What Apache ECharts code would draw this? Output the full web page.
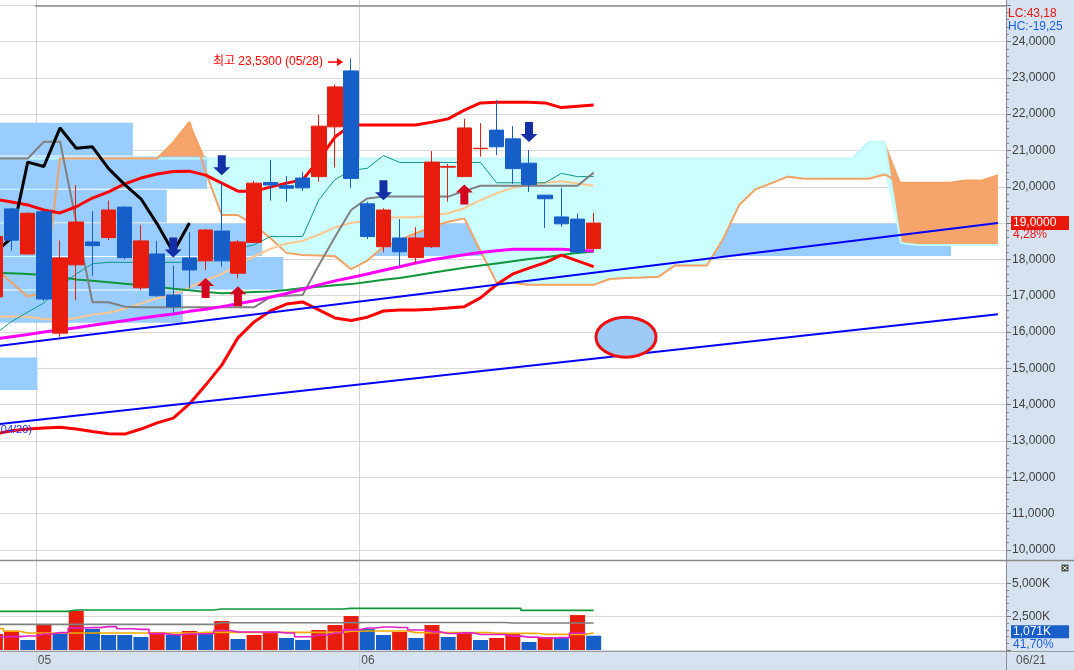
<!DOCTYPE html>
<html><head><meta charset="utf-8">
<script src="https://cdn.jsdelivr.net/npm/echarts@6.0.0/dist/echarts.min.js"></script>
<style>html,body{margin:0;padding:0;background:#fff;overflow:hidden}#c{width:1074px;height:670px}</style>
</head><body><div id="c"></div>
<script>
// ---------- data ----------
const dates = ['04/26','04/29','04/30','05/01','05/02','05/03','05/06','05/07','05/08','05/09','05/10','05/13','05/14','05/15','05/16','05/17','05/20','05/21','05/22','05/23','05/24','05/27','05/28','06/03','06/04','06/05','06/06','06/07','06/10','06/11','06/12','06/13','06/14','06/17','06/18','06/19','06/20','06/21','06/24','06/25','06/26','06/27','06/28','07/01','07/02','07/03','07/04','07/05','07/08','07/09','07/10','07/11','07/12','07/15','07/16','07/17','07/18','07/19','07/22','07/23','07/24','07/25','07/26'];
const lastRealIdx = 37;
const open  = [16.97,19.39,18.15,19.31,15.97,17.85,18.48,18.60,19.44,17.22,18.15,17.02,18.04,17.96,18.78,17.62,18.47,20.12,20.03,20.24,20.28,21.65,23.19,19.53,18.35,18.59,18.05,18.35,20.54,20.28,21.05,21.56,21.32,20.65,19.77,19.17,19.11,18.30];
const close = [18.63,18.53,19.27,16.91,18.04,19.03,18.38,19.36,18.05,18.51,17.00,16.70,17.71,18.81,17.96,18.48,20.10,20.05,19.96,19.97,21.67,22.75,20.23,18.63,19.36,18.21,18.59,20.68,20.56,21.62,21.06,21.10,20.50,20.06,19.67,18.98,18.20,19.00];
const low   = [16.90,18.24,18.15,16.86,15.87,16.88,17.55,18.53,18.00,17.15,16.97,16.52,17.20,17.71,17.80,17.48,18.47,19.62,19.59,19.89,20.14,20.53,19.97,18.56,18.20,17.83,17.89,18.31,19.59,20.28,20.83,20.87,20.08,19.86,18.87,18.90,18.17,18.23];
const high  = [18.90,19.42,19.30,19.35,18.52,20.05,19.33,19.62,19.46,18.95,18.51,17.83,18.75,18.84,20.10,18.53,20.16,20.74,20.30,20.40,21.98,22.82,23.53,19.59,19.41,19.11,18.89,20.99,20.63,21.87,21.75,22.38,21.67,21.01,19.77,19.97,19.26,19.28];
const volume = [1198,1445,748,1896,1222,2944,1572,1123,1123,973,1347,1123,1422,1222,2171,823,1123,1347,898,748,1497,1871,2545,1572,1123,1347,898,1871,973,1347,748,898,1222,599,973,965,2620,1071];

const bbUpper = [19.66,19.58,19.50,19.36,19.28,19.45,19.69,19.86,20.08,20.24,20.35,20.42,20.43,20.32,20.10,19.88,19.88,19.99,20.10,20.19,20.74,21.37,21.70,21.70,21.70,21.70,21.70,21.78,21.87,22.11,22.31,22.33,22.33,22.33,22.31,22.18,22.22,22.25];
const bbLower = [13.20,13.28,13.33,13.36,13.38,13.33,13.26,13.20,13.19,13.33,13.50,13.63,14.02,14.54,15.09,15.84,16.28,16.58,16.77,16.83,16.61,16.39,16.32,16.41,16.58,16.61,16.61,16.63,16.66,16.70,16.94,17.31,17.60,17.76,17.91,18.12,17.96,17.80];
const bbMid   = [16.43,16.43,16.42,16.36,16.33,16.39,16.48,16.53,16.64,16.79,16.93,17.03,17.23,17.43,17.60,17.86,18.08,18.29,18.44,18.51,18.68,18.88,19.01,19.06,19.14,19.16,19.16,19.21,19.27,19.41,19.63,19.82,19.97,20.05,20.11,20.15,20.09,20.03];
const maMagenta = [15.81,15.87,15.93,16.00,16.06,16.12,16.19,16.25,16.31,16.38,16.44,16.50,16.57,16.63,16.70,16.78,16.86,16.96,17.06,17.18,17.30,17.41,17.50,17.60,17.70,17.80,17.90,17.99,18.06,18.13,18.19,18.24,18.28,18.28,18.28,18.28,18.25,18.23];
const maGreen = [17.63,17.62,17.60,17.57,17.52,17.45,17.41,17.37,17.33,17.29,17.24,17.19,17.15,17.10,17.07,17.08,17.10,17.12,17.16,17.21,17.25,17.29,17.32,17.38,17.44,17.49,17.56,17.63,17.70,17.77,17.83,17.89,17.95,18.01,18.06,18.12,18.18,18.22];
const kijun = [20.78,20.78,20.78,21.24,21.24,19.03,16.82,16.82,16.70,16.68,16.68,16.68,16.68,16.68,16.68,16.68,16.68,16.97,17.00,17.02,17.84,18.62,19.36,19.68,19.73,19.73,19.73,19.73,19.73,19.88,20.03,20.03,20.03,20.03,20.03,20.03,20.03,20.39];
const tenkan = [15.95,16.29,16.55,16.80,17.25,17.60,17.88,17.92,17.92,17.92,17.92,17.92,17.92,18.00,18.10,18.31,18.40,18.63,18.63,18.63,19.64,20.20,20.45,20.51,20.86,20.67,20.67,20.67,20.67,20.67,20.67,20.11,20.11,20.11,20.11,20.37,20.28,20.28];
const chikouShift = 25;
const spanA = [17.75,17.36,16.98,17.10,20.78,20.78,20.78,20.78,20.78,20.78,20.78,21.22,21.79,20.41,19.22,19.22,18.95,18.59,18.18,18.12,18.11,18.09,17.73,17.97,18.35,18.53,18.72,18.90,19.04,19.13,18.23,17.36,17.35,17.30,17.30,17.30,17.30,17.30,17.46,17.49,17.50,17.52,17.83,17.83,17.83,18.56,19.50,19.93,20.10,20.28,20.22,20.22,20.22,20.22,20.22,20.34,20.11,20.11,20.11,20.11,20.17,20.17,20.32];
const spanB = [20.78,20.78,20.78,20.78,20.78,20.78,20.78,20.78,20.78,20.78,20.78,20.78,20.78,20.78,20.78,20.78,20.78,20.78,20.78,20.78,20.78,20.78,20.78,20.78,20.78,20.78,20.78,20.78,20.78,20.78,20.78,20.78,20.78,20.78,20.78,20.78,20.78,20.78,20.78,20.78,20.78,20.78,20.78,20.78,20.78,20.78,20.78,20.78,20.78,20.78,20.78,20.78,20.78,20.78,21.24,21.24,18.45,18.40,18.40,18.40,18.40,18.40,18.40];

const volMaMagenta = [995,1000,1050,1198,1302,1651,1676,1751,1597,1547,1228,1138,1198,1217,1457,1352,1352,1337,1272,988,1123,1272,1512,1647,1722,1692,1497,1362,1242,1287,1167,1167,1038,963,888,931,1276,null];
const volMaOrange = [1600,1400,1272,1272,1272,1272,1272,1272,1272,1272,1272,1272,1272,1322,1322,1322,1322,1322,1322,1322,1322,1322,1400,1420,1420,1420,1300,1300,1300,1300,1300,1250,1250,1250,1175,1175,1175,1272];
const volMaGray = [1924,1924,1924,1924,1924,1924,1924,1924,1924,1924,1924,1924,1924,1924,2040,2040,2040,2040,2040,2040,2040,2040,2050,2060,2060,2060,2060,2060,2060,2060,2060,2060,2021,2021,2021,2021,2021,2021];
const volMaGreen = [2897,2897,2897,2897,2897,2994,2994,2994,2994,2994,2994,2994,2994,2994,3069,3069,3069,3069,3069,3069,3069,3069,3121,3121,3121,3121,3121,3121,3121,3121,3121,3121,3121,2971,2971,2971,2971,2971];

// price-zone boxes: start/end as category positions, low/high prices
const boxStart = [-0.5,-0.5,-0.5,-0.5,-0.5,-0.5,-0.5];
const boxEnd   = [8.5,13.1,10.6,16.5,17.8,11.6,2.6];
const boxLow   = [20.85,19.93,19.00,18.08,17.16,16.24,14.39];
const boxHigh  = [21.78,20.85,19.93,19.00,18.08,17.16,15.31];
const zoneStart = [21.9], zoneEnd = [59.1], zoneLow = [18.08], zoneHigh = [19.00];

const trendUpper = [[0,15.61],[62,19.00]];
const trendLower = [[0,13.455],[62,16.49]];
const downArrowIdx = [11,14,24,33];
const upArrowIdx = [13,15,29];
const ellipseAt = [39,15.86];
const lcText = 'LC:43,18', hcText = 'HC:-19,25', changePct = '4,28%', volRatio = '41,70%';

// ---------- helpers ----------
const RED = '#e81c0c', BLUE = '#165fc9';
const priceFmt = v => v.toFixed(4).replace('.', ',');
const volFmt = v => (v/1000).toFixed(3).replace('.', ',') + 'K';
const monthStarts = [];
for (let i = 1; i <= lastRealIdx; i++) if (dates[i].slice(0,2) !== dates[i-1].slice(0,2)) monthStarts.push(i);
const chikou = close.slice(chikouShift);
const cloudBase = spanA.map((a,i)=>Math.min(a,spanB[i]));
const cloudUp = spanA.map((a,i)=>Math.max(spanB[i]-a,0));
const cloudDown = spanA.map((a,i)=>Math.max(a-spanB[i],0));
const FONT = 'Liberation Sans';

function boxRenderer(starts, ends, fill){
  return function(params, api){
    const k = params.dataIndex;
    const base = api.coord([0, api.value(2)]);
    const lowP = api.coord([0, api.value(1)]);
    const bw = api.size([1,0])[0];
    const x0 = base[0] + starts[k]*bw, x1 = base[0] + ends[k]*bw;
    return {type:'rect', shape:{x:x0, y:base[1]+0.5, width:x1-x0, height:lowP[1]-base[1]-1}, style:{fill:fill}};
  };
}
function line(name, data, color, width, z, extra){
  return Object.assign({name, type:'line', xAxisIndex:0, yAxisIndex:0, data, symbol:'none', showSymbol:false,
    lineStyle:{color, width}, itemStyle:{color}, z, silent:true}, extra||{});
}
function vline(name, data, color, width){
  return {name, type:'line', xAxisIndex:1, yAxisIndex:1, data, symbol:'none', showSymbol:false, step:'middle',
    lineStyle:{color, width}, itemStyle:{color}, z:4, silent:true};
}

const chart = echarts.init(document.getElementById('c'), null, {renderer:'canvas'});
const xCommon = {type:'category', data:dates, boundaryGap:true, axisLine:{show:false}, axisTick:{show:false}, axisLabel:{show:false}, splitLine:{show:false}};
const gridCommon = {left:-12.7, right:68, outerBoundsMode:'none', containLabel:false};
const option = {
  animation:false,
  backgroundColor:'#ffffff',
  grid:[
    Object.assign({top:5.18, height:544.8}, gridCommon),
    Object.assign({top:583.3, height:66.7}, gridCommon),
    Object.assign({top:0, height:670}, gridCommon)
  ],
  xAxis:[
    Object.assign({gridIndex:0}, xCommon),
    Object.assign({gridIndex:1}, xCommon),
    Object.assign({}, xCommon, {gridIndex:2, splitLine:{show:true, interval:(idx)=>monthStarts.indexOf(idx)>=0, lineStyle:{color:'#d2d2d2', width:1}}})
  ],
  yAxis:[
    {type:'value', gridIndex:0, position:'right', min:10, max:25, interval:1,
     axisLine:{show:false}, axisTick:{show:true, length:5, lineStyle:{color:'#777'}},
     minorTick:{show:true, splitNumber:5, length:3, lineStyle:{color:'#888'}},
     axisLabel:{margin:6, color:'#404040', fontSize:12, fontFamily:FONT, formatter:v=> v>=25 ? '' : priceFmt(v)},
     splitLine:{lineStyle:{color:'#d9d9d9', width:1}}},
    {type:'value', gridIndex:1, position:'right', min:0, max:5000, interval:2500,
     axisLine:{show:false}, axisTick:{show:true, length:5, lineStyle:{color:'#777'}},
     minorTick:{show:true, splitNumber:5, length:3, lineStyle:{color:'#888'}},
     axisLabel:{margin:6, color:'#404040', fontSize:12, fontFamily:FONT, formatter:v=> v===0 ? '' : volFmt(v)},
     splitLine:{lineStyle:{color:'#d9d9d9', width:1}}},
    {type:'value', gridIndex:2, show:false}
  ],
  series:[
    {name:'zone', type:'custom', xAxisIndex:0, yAxisIndex:0, z:1, silent:true,
     data: zoneLow.map((v,k)=>[0, v, zoneHigh[k]]), encode:{x:0, y:[1,2]},
     renderItem: boxRenderer(zoneStart, zoneEnd, '#99ccff')},
    line('cloudBase', cloudBase, 'rgba(0,0,0,0)', 0, 2, {stack:'cloud', stackStrategy:'all', lineStyle:{opacity:0, width:0}}),
    line('cloudUp', cloudUp, 'rgba(0,0,0,0)', 0, 2, {stack:'cloud', stackStrategy:'all', lineStyle:{opacity:0, width:0}, areaStyle:{color:'#ccffff', opacity:1}}),
    line('cloudDown', cloudDown, 'rgba(0,0,0,0)', 0, 2, {stack:'cloud', stackStrategy:'all', lineStyle:{opacity:0, width:0}, areaStyle:{color:'#f5a46b', opacity:1}}),
    {name:'boxes', type:'custom', xAxisIndex:0, yAxisIndex:0, z:3, silent:true,
     data: boxLow.map((v,k)=>[0, v, boxHigh[k]]), encode:{x:0, y:[1,2]},
     renderItem: boxRenderer(boxStart, boxEnd, '#99ccff')},
    line('spanB', spanB, '#c2f8f8', 2, 4),
    line('spanA', spanA, '#f4a264', 2, 4),
    line('bbMid', bbMid, '#ffc690', 2, 4),
    line('tenkan', tenkan, '#0e9686', 1, 4),
    line('maGreen', maGreen, '#10963a', 2, 4),
    line('kijun', kijun, '#808080', 2, 4),
    line('maMagenta', maMagenta, '#ff00ff', 3, 4),
    line('bbUpper', bbUpper, '#ff0000', 3, 4),
    line('bbLower', bbLower, '#ff0000', 3, 4),
    line('chikou', chikou, '#000000', 3, 4),
    {name:'price', type:'candlestick', xAxisIndex:0, yAxisIndex:0, z:5, barWidth:15, silent:true,
     data: open.map((o,i)=>[o, close[i], low[i], high[i]]),
     itemStyle:{color:RED, color0:BLUE, borderColor:RED, borderColor0:BLUE, borderWidth:1}},
    line('trendUpper', trendUpper, '#0000ff', 2, 6, {connectNulls:true}),
    line('trendLower', trendLower, '#0000ff', 2, 6, {connectNulls:true}),
    {name:'sell', type:'scatter', xAxisIndex:0, yAxisIndex:0, z:7, silent:true,
     symbol:'path://M4.5,0 L12.5,0 L12.5,12 L17,12 L8.5,20 L0,12 L4.5,12 Z', symbolSize:[17,20], symbolOffset:[0,-18],
     itemStyle:{color:'#1530a6', opacity:1}, data: downArrowIdx.map(i=>[i, high[i]])},
    {name:'buy', type:'scatter', xAxisIndex:0, yAxisIndex:0, z:7, silent:true,
     symbol:'path://M8.5,0 L17,8 L12.5,8 L12.5,20 L4.5,20 L4.5,8 L0,8 Z', symbolSize:[17,20], symbolOffset:[0,18],
     itemStyle:{color:'#d2061e', opacity:1}, data: upArrowIdx.map(i=>[i, low[i]])},
    {name:'volume', type:'bar', xAxisIndex:1, yAxisIndex:1, barWidth:15, z:2, silent:true,
     data: volume.map((v,i)=>({value:v, itemStyle:{color:(i===0 || v>volume[i-1]) ? RED : BLUE}}))},
    vline('vGreen', volMaGreen, '#10963a', 1.6),
    vline('vGray', volMaGray, '#808080', 1.6),
    vline('vOrange', volMaOrange, '#f0aa00', 1.6),
    vline('vMagenta', volMaMagenta, '#e020c8', 1.6)
  ]
};
chart.setOption(option);

// ---------- overlays positioned through the axes ----------
const P = (i,v)=>chart.convertToPixel({gridIndex:0}, [i,v]);
const V = (i,v)=>chart.convertToPixel({gridIndex:1}, [i,v]);
const bw = P(1,10)[0]-P(0,10)[0];
const g = [];
g.push({type:'rect', z:-10, silent:true, shape:{x:1006, y:0, width:68, height:670}, style:{fill:'#d6e2f0'}});
g.push({type:'rect', z:-10, silent:true, shape:{x:0, y:652, width:1006, height:18}, style:{fill:'#d6e2f0'}});
g.push({type:'line', z:50, silent:true, shape:{x1:35, y1:6, x2:1006, y2:6}, style:{stroke:'#8a8a8a', lineWidth:1.5}});
g.push({type:'line', z:50, silent:true, shape:{x1:0, y1:560.5, x2:1074, y2:560.5}, style:{stroke:'#8a8a8a', lineWidth:1.5}});
g.push({type:'line', z:50, silent:true, shape:{x1:0, y1:651.5, x2:1074, y2:651.5}, style:{stroke:'#9a9a9a', lineWidth:1}});
g.push({type:'line', z:50, silent:true, shape:{x1:1006.5, y1:0, x2:1006.5, y2:670}, style:{stroke:'#8a8a8a', lineWidth:1}});
// month labels
monthStarts.forEach(i=>{
  const x = P(i,10)[0]-bw/2;
  g.push({type:'text', z:60, silent:true, x:x+2, y:661, style:{text:dates[i].slice(0,2), fill:'#505050', fontSize:12, fontFamily:FONT, verticalAlign:'middle', align:'left'}});
});
g.push({type:'text', z:60, silent:true, x:1016, y:661, style:{text:dates[lastRealIdx], fill:'#505050', fontSize:12, fontFamily:FONT, verticalAlign:'middle', align:'left'}});
// LC / HC
g.push({type:'text', z:60, silent:true, x:1008, y:14, style:{text:lcText, fill:'#e8140c', fontSize:12, fontFamily:FONT, verticalAlign:'middle'}});
g.push({type:'text', z:60, silent:true, x:1008, y:27, style:{text:hcText, fill:'#1a5fdc', fontSize:12, fontFamily:FONT, verticalAlign:'middle'}});
// current price tag
const lastClose = close[lastRealIdx];
const py = P(lastRealIdx, lastClose)[1];
g.push({type:'rect', z:60, silent:true, shape:{x:1011, y:py-7, width:58, height:14}, style:{fill:'#e8190b'}});
g.push({type:'text', z:61, silent:true, x:1013, y:py, style:{text:priceFmt(lastClose), fill:'#ffffff', fontSize:12, fontFamily:FONT, verticalAlign:'middle'}});
g.push({type:'text', z:61, silent:true, x:1013, y:py+12, style:{text:changePct, fill:'#e8140c', fontSize:12, fontFamily:FONT, verticalAlign:'middle'}});
// last volume tag
const lastVol = volume[lastRealIdx];
const vy = V(lastRealIdx, lastVol)[1]-4;
g.push({type:'rect', z:60, silent:true, shape:{x:1011, y:vy-6.5, width:58, height:13}, style:{fill:'#1a5fc8'}});
g.push({type:'text', z:61, silent:true, x:1013, y:vy, style:{text:volFmt(lastVol), fill:'#ffffff', fontSize:12, fontFamily:FONT, verticalAlign:'middle'}});
g.push({type:'text', z:61, silent:true, x:1013, y:vy+13, style:{text:volRatio, fill:'#1a5fdc', fontSize:12, fontFamily:FONT, verticalAlign:'middle'}});
// small close button of the volume pane
g.push({type:'rect', z:60, silent:true, shape:{x:1061.5, y:564.5, width:7, height:7}, style:{fill:'#555'}});
g.push({type:'line', z:61, silent:true, shape:{x1:1063, y1:566, x2:1067, y2:570}, style:{stroke:'#fff', lineWidth:1}});
g.push({type:'line', z:61, silent:true, shape:{x1:1067, y1:566, x2:1063, y2:570}, style:{stroke:'#fff', lineWidth:1}});
// highest price annotation
let maxIdx = 0; high.forEach((h,i)=>{ if (h>high[maxIdx]) maxIdx=i; });
const hp = P(maxIdx, high[maxIdx]);
const ay = hp[1]+3.5, ax2 = hp[0]-bw/2, ax1 = ax2-15;
g.push({type:'text', z:60, silent:true, x:ax1-5, y:ay,
  style:{text:'최고 ' + priceFmt(high[maxIdx]) + ' (' + dates[maxIdx] + ')', fill:'#ff0000', fontSize:12,
  fontFamily:'"Liberation Sans","Noto Sans CJK KR"', align:'right', verticalAlign:'middle'}});
g.push({type:'line', z:60, silent:true, shape:{x1:ax1, y1:ay, x2:ax2-2, y2:ay}, style:{stroke:'#ff0000', lineWidth:1.5}});
g.push({type:'polygon', z:60, silent:true, shape:{points:[[ax2,ay],[ax2-6,ay-4],[ax2-6,ay+4]]}, style:{fill:'#ff0000'}});
// trend line date tag
const tp = P(trendLower[0][0], trendLower[0][1]);
g.push({type:'text', z:60, silent:true, x:32, y:tp[1]+5, style:{text:'(04/20)', fill:'#1f2fff', fontSize:11, fontFamily:FONT, align:'right', verticalAlign:'middle'}});
// ellipse drawing
const ep = P(ellipseAt[0], ellipseAt[1]);
g.push({type:'ellipse', z:60, silent:true, shape:{cx:ep[0], cy:ep[1], rx:30, ry:20}, style:{fill:'#9dcbf6', stroke:'#ee1010', lineWidth:3}});
chart.setOption({graphic:g});
</script>
</body></html>
